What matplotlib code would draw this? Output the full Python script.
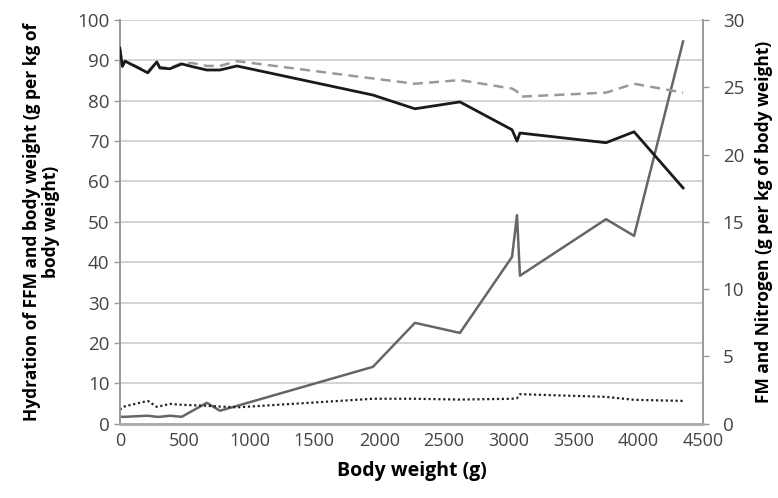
import matplotlib
matplotlib.use("Agg")
import matplotlib.pyplot as plt

body_weight = [0, 20, 40, 216, 285, 309, 386, 478, 563, 671, 772, 903,
               1952, 2276, 2623, 3025, 3063, 3086, 3750, 3966, 4344]
hydration_ffm = [93.0, 88.5, 89.8, 86.9, 89.6, 88.1, 87.9, 89.1, 88.4, 87.6, 87.6, 88.6,
                 81.4, 78.0, 79.7, 72.8, 70.0, 72.0, 69.6, 72.3, 58.4]
body_water = [93.0, 88.5, 89.8, 87.2, 89.6, 88.3, 88.1, 89.3, 89.3, 88.6, 88.6, 89.8,
              85.5, 84.2, 85.1, 83.0, 82.3, 81.0, 82.0, 84.2, 82.0]
fat_mass = [0.52, 0.52, 0.52, 0.6, 0.52, 0.52, 0.6, 0.52, 0.98, 1.56, 0.97, 1.33,
            4.23, 7.5, 6.75, 12.4, 15.5, 11.0, 15.2, 13.96, 28.4]
nitrogen = [1.04, 1.2, 1.3, 1.7, 1.26, 1.3, 1.48, 1.41, 1.38, 1.34, 1.28, 1.22,
            1.86, 1.86, 1.8, 1.86, 1.9, 2.2, 2.0, 1.78, 1.7]

x_ticks = [0, 500, 1000, 1500, 2000, 2500, 3000, 3500, 4000, 4500]
left_ticks = [0, 10, 20, 30, 40, 50, 60, 70, 80, 90, 100]
right_ticks = [0, 5, 10, 15, 20, 25, 30]

plt.rcParams['font.family'] = ['Open Sans', 'DejaVu Sans']

fig = plt.figure(figsize=(7.78, 4.98), dpi=100)
ax = fig.add_axes([0.154, 0.149, 0.75, 0.811])
ax2 = ax.twinx()

ax.set_zorder(ax2.get_zorder() + 1)
ax.patch.set_visible(False)

ax2.plot(body_weight, fat_mass, color='#666666', lw=1.8, zorder=3)
ax2.plot(body_weight, nitrogen, color='#222222', lw=1.6, linestyle=(0, (1, 1.2)), zorder=3)
ax.plot(body_weight, body_water, color='#999999', lw=1.8, linestyle=(0, (4, 2.5)), zorder=3)
ax.plot(body_weight, hydration_ffm, color='#1a1a1a', lw=2.0, zorder=4)

ax.set_xlim(0, 4500)
ax.set_ylim(0, 100)
ax2.set_ylim(0, 30)
ax.set_xticks(x_ticks)
ax.set_yticks(left_ticks)
ax2.set_yticks(right_ticks)

ax2.yaxis.grid(False)
for v in left_ticks:
    ax2.axhline(v * 0.3, color='#cccccc', lw=1.2, zorder=0)

for a in (ax, ax2):
    a.spines['top'].set_visible(False)
    for s in ('left', 'right', 'bottom'):
        a.spines[s].set_color('#999999')
        a.spines[s].set_linewidth(1.2)
    a.tick_params(colors='#999999', labelcolor='#444444', labelsize=13.5, length=4, width=1.0)
ax.spines['bottom'].set_color('#aaaaaa')
ax.spines['bottom'].set_linewidth(2)
ax.tick_params(axis='x', length=0, pad=6, labelsize=13)
ax2.tick_params(axis='y', pad=10)
ax2.spines['bottom'].set_visible(False)

ax.set_xlabel('Body weight (g)', fontsize=14, fontweight='bold', labelpad=8)
ax.set_ylabel('Hydration of FFM and body weight (g per kg of\nbody weight)',
              fontsize=12.5, fontweight='bold', labelpad=12, linespacing=1.1)
ax2.set_ylabel('FM and Nitrogen (g per kg of body weight)', fontsize=12.5,
               fontweight='bold', labelpad=8)

fig.savefig('out.png', dpi=100)
